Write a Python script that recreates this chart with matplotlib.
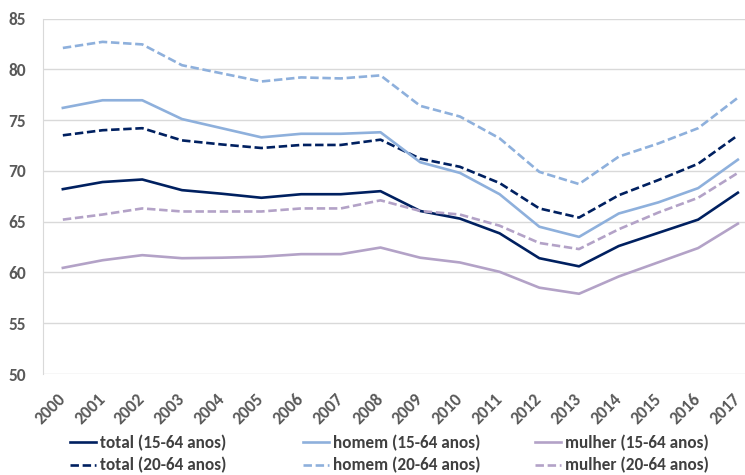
import matplotlib
matplotlib.use("Agg")
import matplotlib.pyplot as plt

plt.rcParams['font.family'] = ['Carlito', 'Liberation Sans Narrow', 'Liberation Sans', 'DejaVu Sans']

anos = [str(a) for a in range(2000, 2018)]

total_15 = [68.2, 68.9, 69.15, 68.1, 67.75, 67.35, 67.7, 67.7, 68.0, 66.05, 65.3, 63.85, 61.4, 60.6, 62.6, 63.9, 65.2, 67.85]
homem_15 = [76.2, 76.95, 76.95, 75.1, 74.2, 73.3, 73.65, 73.65, 73.8, 70.85, 69.8, 67.7, 64.5, 63.5, 65.8, 66.9, 68.3, 71.1]
mulher_15 = [60.45, 61.2, 61.7, 61.4, 61.45, 61.55, 61.8, 61.8, 62.45, 61.45, 60.98, 60.06, 58.5, 57.9, 59.6, 61.0, 62.4, 64.8]
total_20 = [73.5, 74.0, 74.2, 73.0, 72.6, 72.25, 72.55, 72.55, 73.07, 71.2, 70.4, 68.8, 66.3, 65.4, 67.6, 69.1, 70.7, 73.5]
homem_20 = [82.1, 82.7, 82.45, 80.4, 79.6, 78.8, 79.2, 79.1, 79.4, 76.4, 75.35, 73.2, 69.9, 68.7, 71.4, 72.7, 74.2, 77.2]
mulher_20 = [65.2, 65.7, 66.3, 66.0, 66.0, 66.0, 66.3, 66.3, 67.1, 66.05, 65.7, 64.6, 62.9, 62.3, 64.25, 65.9, 67.35, 69.8]

c_total = '#002060'
c_homem = '#8EB0DC'
c_mulher = '#B3A2C7'

fig = plt.figure(figsize=(7.45, 4.75), dpi=100)
ax = fig.add_axes([43/745, 1-374/475, 702/745, (374-18.5)/475])

x = range(len(anos))
lw = 1.9
dash = (0, (3.2, 1.4))
l1, = ax.plot(x, total_15, color=c_total, lw=lw, label='total (15-64 anos)')
l2, = ax.plot(x, total_20, color=c_total, lw=lw, ls=dash, label='total (20-64 anos)')
l3, = ax.plot(x, homem_15, color=c_homem, lw=lw, label='homem (15-64 anos)')
l4, = ax.plot(x, homem_20, color=c_homem, lw=lw, ls=dash, label='homem (20-64 anos)')
l5, = ax.plot(x, mulher_15, color=c_mulher, lw=lw, label='mulher (15-64 anos)')
l6, = ax.plot(x, mulher_20, color=c_mulher, lw=lw, ls=dash, label='mulher (20-64 anos)')

ax.set_ylim(50, 85)
ax.set_yticks(range(50, 90, 5))
ax.set_xlim(-0.5, 17.18)
ax.set_xticks(list(x))
ax.set_xticklabels(anos, rotation=45, ha='right', va='center', rotation_mode='anchor')
ax.grid(axis='y', color='#D9D9D9', lw=1)
ax.set_axisbelow(True)
for s in ['top', 'right', 'bottom']:
    ax.spines[s].set_visible(False)
ax.spines['left'].set_color('#D9D9D9')
ax.tick_params(length=0, labelsize=12.5, colors='#595959')
ax.tick_params(axis='y', pad=12)
ax.tick_params(axis='x', pad=16)
for t in ax.get_xticklabels() + ax.get_yticklabels():
    t.set_fontweight('bold')

# tres colunas de legenda, como no Excel
colunas = [([l1, l2], 70), ([l3, l4], 303), ([l5, l6], 535)]
for linhas, px in colunas:
    leg = fig.legend(handles=linhas, loc='center left', bbox_to_anchor=(px/745, 1-454.2/475),
                     frameon=False, fontsize=12.3, handlelength=1.55, handletextpad=0.2,
                     labelspacing=0.35, borderaxespad=0, borderpad=0)
    for t in leg.get_texts():
        t.set_color('#404040')
        t.set_fontweight('bold')

fig.savefig('out.png', dpi=100)
